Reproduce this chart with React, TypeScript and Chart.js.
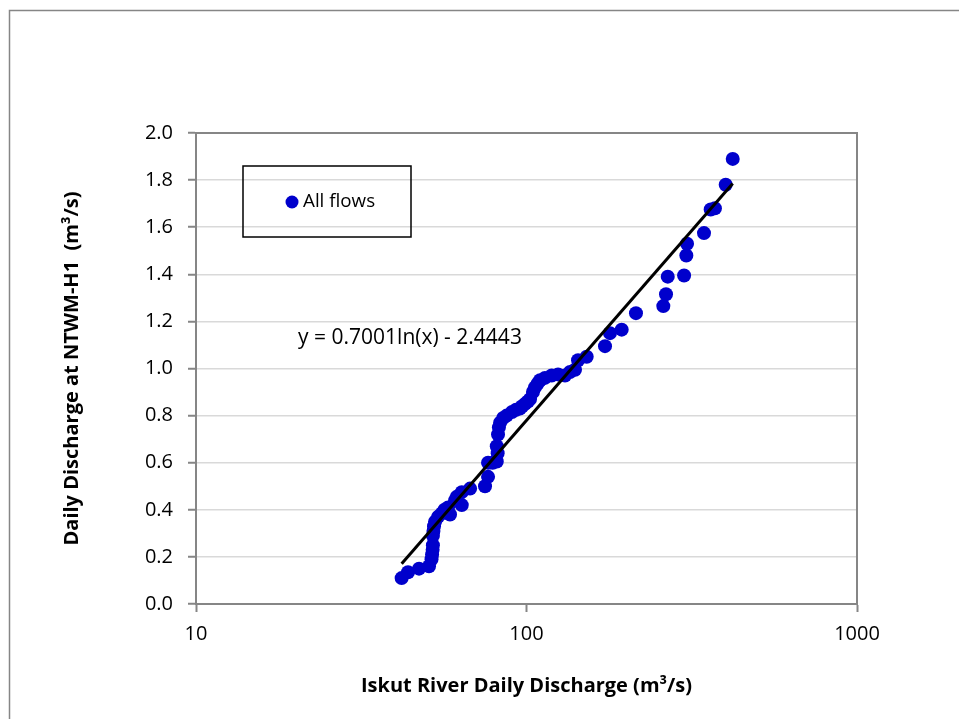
import React, { useEffect, useRef } from "react";
import { Chart, registerables } from "chart.js";

Chart.register(...registerables);

// ---- data ----
const flowX = [
  41.9, 43.8, 47.3, 50.7, 51.6, 51.8, 52.0, 52.1, 52.1, 52.3, 52.5, 52.9, 54.0, 55.4, 56.5,
  57.9, 58.7, 60.8, 61.5, 63.7, 63.7, 67.5, 74.9, 76.5, 76.5, 79.0, 81.3, 81.3, 81.8, 82.0,
  82.5, 83.2, 85.0, 87.1, 90.4, 93.0, 95.5, 97.0, 99.0, 101.0, 102.5, 104.6, 106.1, 108.0,
  109.9, 113.7, 119.2, 124.6, 130.8, 135.4, 140.2, 143.2, 152.1,
  172.8, 178.9, 194.1, 214.4, 259.4, 264.3, 267.5, 299.8, 304.5, 306.0, 344.4, 360.8, 371.7,
  400.6, 420.7,
];
const flowY = [
  0.11, 0.135, 0.15, 0.16, 0.19, 0.21, 0.23, 0.25, 0.29, 0.31, 0.33, 0.35, 0.37, 0.385, 0.4,
  0.41, 0.38, 0.44, 0.455, 0.42, 0.475, 0.49, 0.5, 0.54, 0.6, 0.6, 0.605, 0.67, 0.64, 0.72,
  0.75, 0.77, 0.79, 0.8, 0.815, 0.825, 0.83, 0.84, 0.85, 0.86, 0.87, 0.9, 0.92, 0.935,
  0.95, 0.96, 0.97, 0.975, 0.97, 0.985, 0.995, 1.035, 1.05,
  1.095, 1.15, 1.165, 1.235, 1.265, 1.315, 1.39, 1.395, 1.48, 1.53, 1.575, 1.675, 1.68,
  1.78, 1.89,
];
const trendSlope = 0.7001;
const trendIntercept = -2.4443;
const xTickValues = [10, 100, 1000];
const yTickMin = 0;
const yTickMax = 2;
const yTickStep = 0.2;
const seriesLabel = "All flows";
const equationText = "y = 0.7001ln(x) - 2.4443";
const xTitle = "Iskut River Daily Discharge (m\u00b3/s)";
const yTitle = "Daily Discharge at NTWM-H1  (m\u00b3/s)";

const FONT = "'Open Sans', 'Liberation Sans', sans-serif";
const BLUE = "#0000CC";
const AXIS_GRAY = "#868686";

export default function App() {
  const ref = useRef<HTMLCanvasElement | null>(null);

  useEffect(() => {
    document.body.style.margin = "0";
    document.body.style.overflow = "hidden";
    const canvas = ref.current;
    if (!canvas) return;

    const points = flowX.map((x, i) => ({ x, y: flowY[i] }));
    const xmin = Math.min(...flowX);
    const xmax = Math.max(...flowX);
    const trend = [xmin, xmax].map((x) => ({ x, y: trendSlope * Math.log(x) + trendIntercept }));

    const decor = {
      id: "decor",
      beforeDraw(chart: any) {
        const ctx = chart.ctx;
        ctx.save();
        ctx.fillStyle = "#ffffff";
        ctx.fillRect(0, 0, chart.width, chart.height);
        ctx.restore();
      },
      afterDraw(chart: any) {
        const ctx = chart.ctx;
        const { left, top, right, bottom } = chart.chartArea;
        ctx.save();
        // outer frame
        ctx.strokeStyle = AXIS_GRAY;
        ctx.lineWidth = 1.5;
        ctx.strokeRect(9.5, 10.5, 2000, 2000);
        // plot area top/right border
        ctx.lineWidth = 2;
        ctx.beginPath();
        ctx.moveTo(left, top);
        ctx.lineTo(right, top);
        ctx.lineTo(right, bottom);
        ctx.stroke();
        // legend box
        const lx = left + 47;
        const ly = top + 33;
        ctx.strokeStyle = "#000000";
        ctx.lineWidth = 1.5;
        ctx.strokeRect(lx, ly, 168, 71);
        ctx.fillStyle = BLUE;
        ctx.beginPath();
        ctx.arc(lx + 49, ly + 36, 6.5, 0, Math.PI * 2);
        ctx.fill();
        ctx.fillStyle = "#000000";
        ctx.font = `18.8px ${FONT}`;
        ctx.textBaseline = "middle";
        ctx.textAlign = "left";
        ctx.fillText(seriesLabel, lx + 60, ly + 36);
        // trendline equation
        ctx.font = `21px ${FONT}`;
        ctx.textAlign = "center";
        ctx.fillText(equationText, left + 214, top + 205);
        ctx.restore();
      },
    };

    const chart = new Chart(canvas, {
      type: "scatter",
      data: {
        datasets: [
          {
            label: "trend",
            data: trend,
            showLine: true,
            borderColor: "#000000",
            borderWidth: 3,
            pointRadius: 0,
            order: 0,
          },
          {
            label: seriesLabel,
            data: points,
            backgroundColor: BLUE,
            borderColor: BLUE,
            pointRadius: 7,
            pointBorderWidth: 0,
            order: 1,
          },
        ],
      },
      options: {
        responsive: false,
        animation: false,
        layout: { padding: { left: 0, top: 133, right: 102, bottom: 0 } },
        plugins: {
          legend: { display: false },
          tooltip: { enabled: false },
        },
        scales: {
          x: {
            type: "logarithmic",
            min: 10,
            max: 1000,
            afterBuildTicks(scale: any) {
              scale.ticks = xTickValues.map((v) => ({ value: v }));
            },
            afterFit(scale: any) {
              scale.height = 115;
            },
            ticks: {
              autoSkip: false,
              maxRotation: 0,
              padding: 10,
              color: "#000000",
              font: { family: FONT, size: 20 },
              callback: (v: any) => String(v),
            },
            grid: {
              drawOnChartArea: false,
              drawTicks: true,
              tickLength: 8,
              tickColor: AXIS_GRAY,
              tickWidth: 2,
            },
            border: { color: AXIS_GRAY, width: 2 },
            title: {
              display: true,
              text: xTitle,
              color: "#000000",
              font: { family: FONT, size: 20, weight: "bold" },
              padding: { top: 0, bottom: 21 },
            },
          },
          y: {
            type: "linear",
            min: yTickMin,
            max: yTickMax,
            afterFit(scale: any) {
              scale.width = 196;
            },
            ticks: {
              stepSize: yTickStep,
              padding: 15,
              color: "#000000",
              font: { family: FONT, size: 20 },
              callback: (v: any) => Number(v).toFixed(1),
            },
            grid: {
              color: "#d9d9d9",
              lineWidth: 1.5,
              drawTicks: true,
              tickLength: 8,
              tickColor: AXIS_GRAY,
              tickWidth: 2,
            },
            border: { color: AXIS_GRAY, width: 2 },
            title: {
              display: true,
              text: yTitle,
              color: "#000000",
              font: { family: FONT, size: 20, weight: "bold" },
              padding: { top: 60, bottom: 0 },
            },
          },
        },
      },
      plugins: [decor],
    } as any);

    return () => chart.destroy();
  }, []);

  return (
    <div style={{ width: 959, height: 719 }}>
      <canvas ref={ref} width={959} height={719} style={{ display: "block", width: 959, height: 719 }} />
    </div>
  );
}
